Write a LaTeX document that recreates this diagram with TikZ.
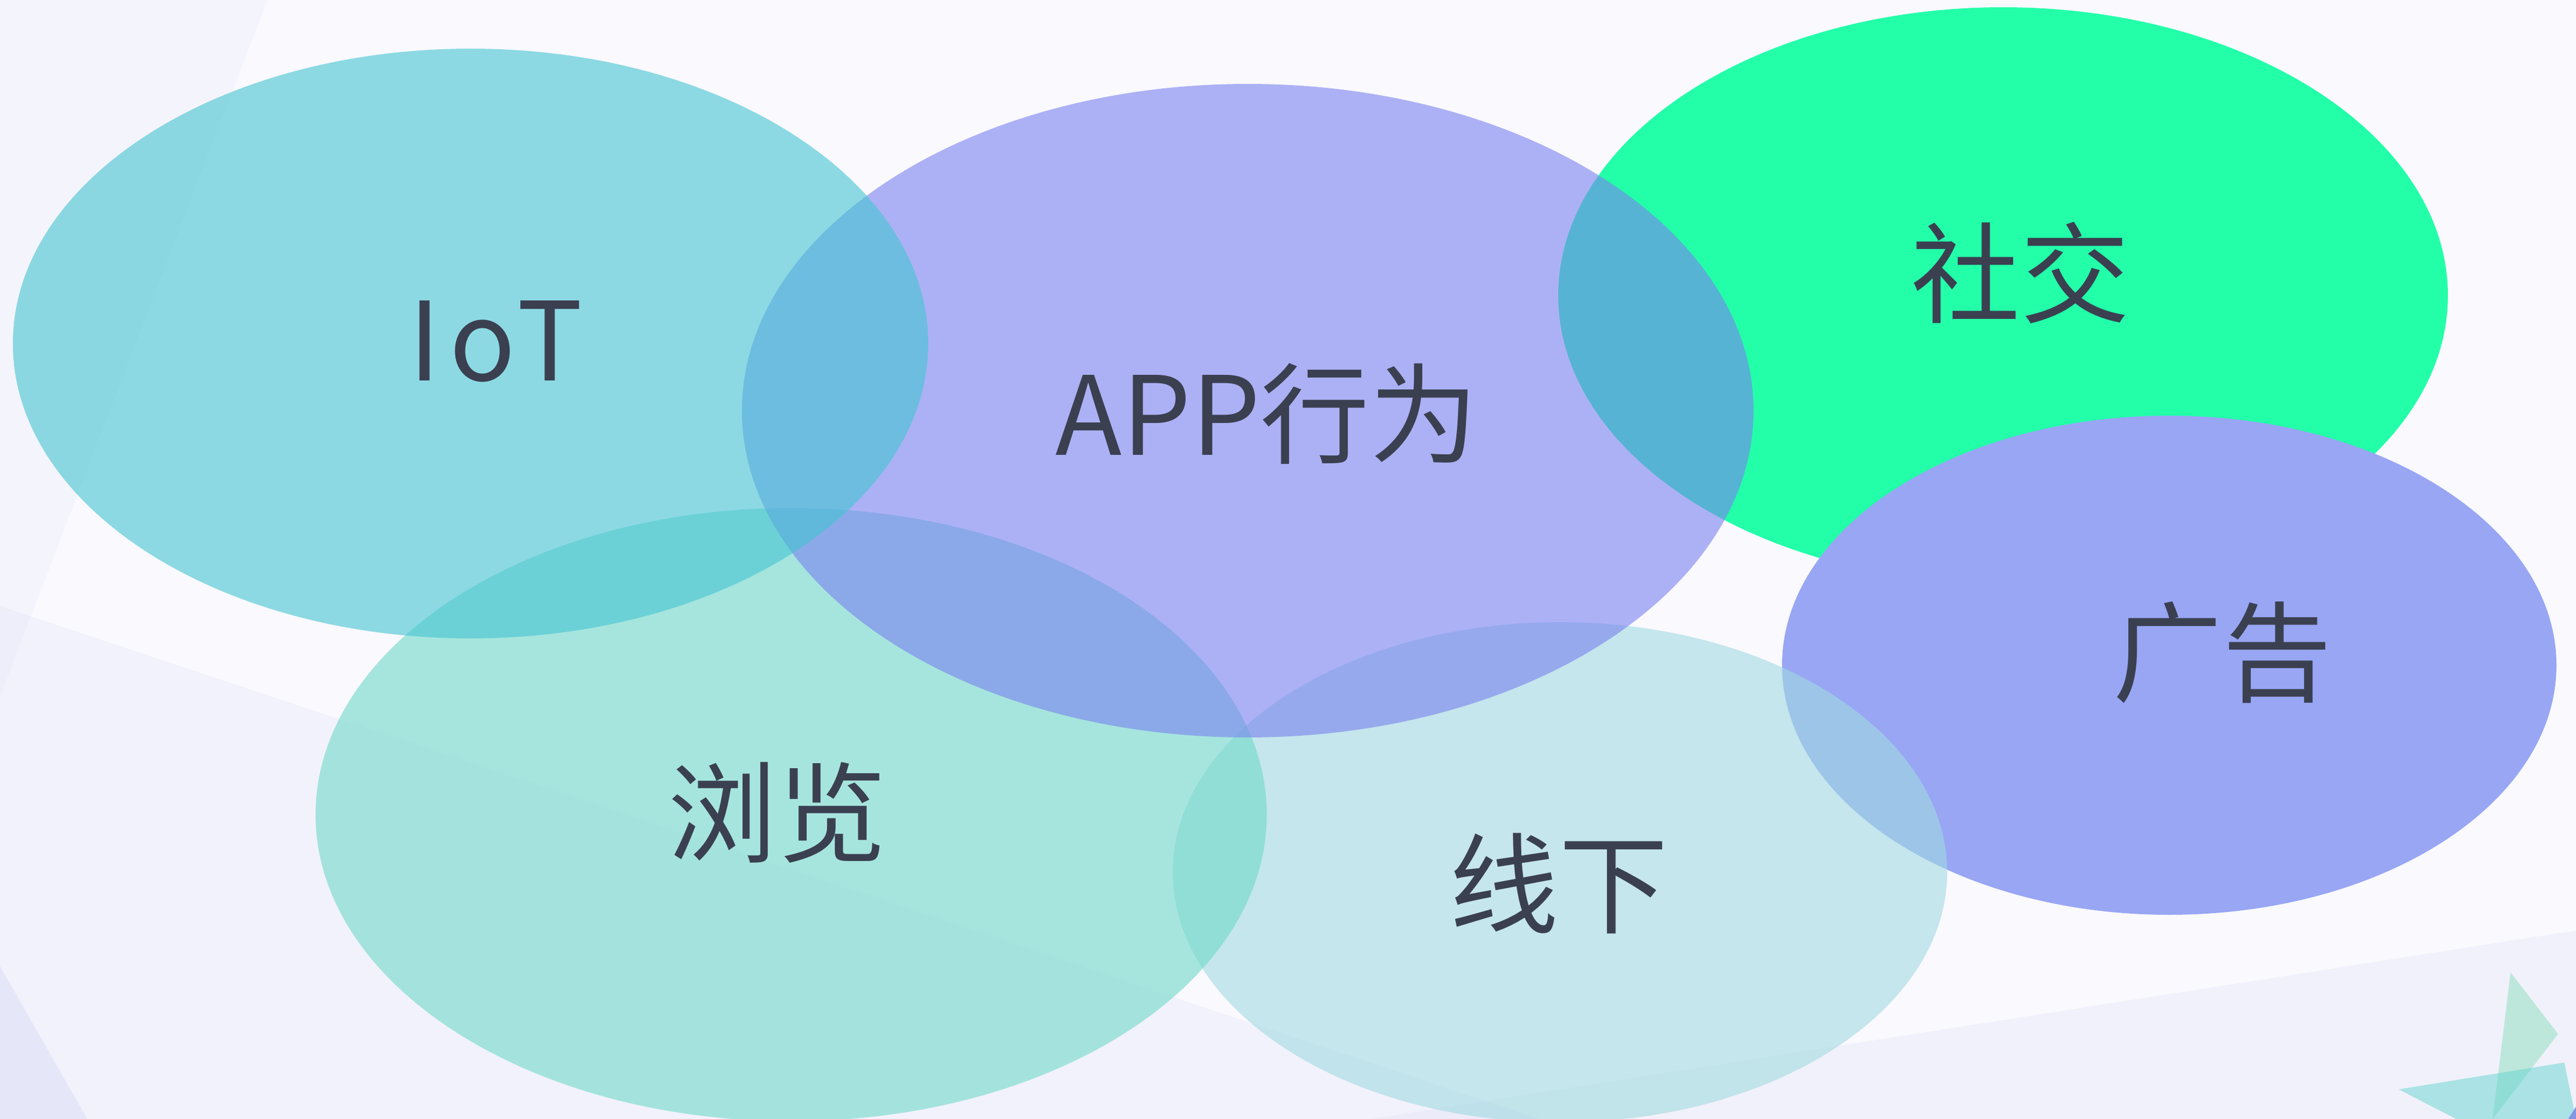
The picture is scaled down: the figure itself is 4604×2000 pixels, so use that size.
\documentclass[tikz,border=0pt]{standalone}
\usepackage{fontspec}
\setmainfont{Noto Sans CJK SC}
\definecolor{bgbase}{HTML}{F9F9FE}
\definecolor{bgshade}{RGB}{214,214,244}
\definecolor{bgdark}{RGB}{226,227,248}
\definecolor{cSocial}{HTML}{23FFA9}
\definecolor{cAd}{RGB}{152,166,244}
\definecolor{cOffline}{RGB}{161,218,224}
\definecolor{cBrowse}{RGB}{112,217,201}
\definecolor{cApp}{RGB}{122,129,239}
\definecolor{cIot}{RGB}{68,197,210}
\definecolor{cGreenTri}{RGB}{139,223,188}
\definecolor{cCyanTri}{RGB}{101,213,208}
\definecolor{cBlueTri}{RGB}{130,150,228}
\definecolor{txt}{RGB}{59,64,81}
\tikzset{
  blob/.style={fill=#1, fill opacity=0.6},
  solidblob/.style={fill=#1},
  label/.style={text=txt, font=\fontsize{55.5}{60}\selectfont, inner sep=0pt, anchor=center},
}
\begin{document}
\begin{tikzpicture}[x=0.01cm, y=-0.01cm]
\useasboundingbox (0,0) rectangle (4604,2000);
% background
\fill[bgbase] (0,0) rectangle (4604,2000);
\fill[bgshade, fill opacity=0.14] (0,0) -- (478,0) -- (0,1245) -- cycle;
\fill[bgshade, fill opacity=0.2] (0,1083) -- (2750,2000) -- (0,2000) -- cycle;
\fill[bgshade, fill opacity=0.22] (2450,2000) -- (4604,1663) -- (4604,2000) -- cycle;
\fill[bgdark, fill opacity=0.8] (0,1727) -- (156,2000) -- (0,2000) -- cycle;
% decorative corner shapes
\fill[cGreenTri, fill opacity=0.5] (4487,1738) -- (4572,1848) -- (4455,2000) -- cycle;
\fill[cCyanTri, fill opacity=0.5] (4287,1947) -- (4583,1899) -- (4604,2000) -- (4390,2000) -- cycle;
\fill[cBlueTri] (4590,2000) -- (4604,1978) -- (4604,2000) -- cycle;
% ellipses (paint order matters)
\fill[solidblob=cSocial] (3580,528) ellipse [x radius=795, y radius=515];
\fill[solidblob=cAd] (3877,1189) ellipse [x radius=692, y radius=446];
\fill[blob=cOffline] (2788,1559) ellipse [x radius=692, y radius=447];
\fill[blob=cBrowse] (1414,1456) ellipse [x radius=850, y radius=548];
\fill[blob=cApp] (2230,734) ellipse [x radius=904, y radius=584];
\fill[blob=cIot] (841,614) ellipse [x radius=818, y radius=527];
% labels
\node[label] (iot) at (886,610) {\addfontfeature{LetterSpace=8}IoT};
\node[label] (app) at (2265,740) {APP行为};
\node[label] (social) at (3611,488) {社交};
\node[label] (ad) at (3972,1166) {广告};
\node[label] (browse) at (1389,1452) {浏览};
\node[label] (offline) at (2786,1579) {线下};
\end{tikzpicture}
\end{document}
